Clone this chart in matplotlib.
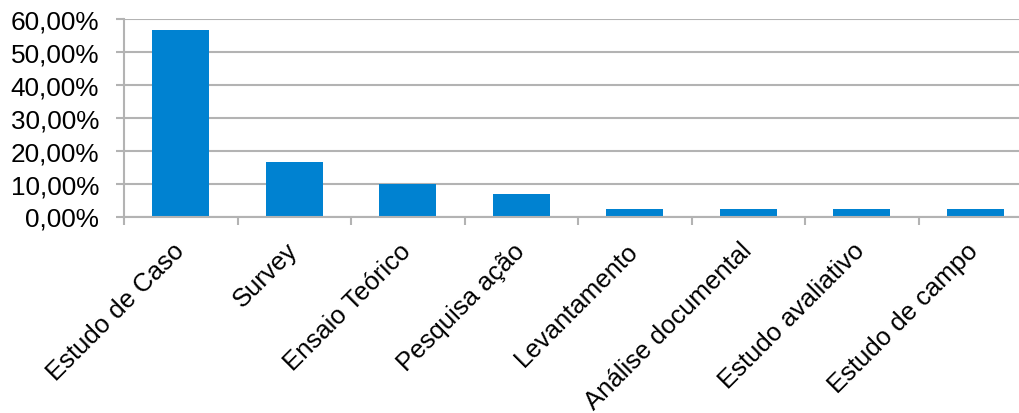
import matplotlib
matplotlib.use("Agg")
import matplotlib.pyplot as plt
from matplotlib.ticker import FuncFormatter, FixedLocator
from matplotlib.transforms import ScaledTranslation
import numpy as np

categories = ["Estudo de Caso", "Survey", "Ensaio Teórico", "Pesquisa ação",
              "Levantamento", "Análise documental", "Estudo avaliativo", "Estudo de campo"]
values = [0.567, 0.167, 0.100, 0.067, 0.022, 0.022, 0.022, 0.022]
y_ticks = [0.0, 0.1, 0.2, 0.3, 0.4, 0.5, 0.6]

plt.rcParams['font.family'] = ['Liberation Sans', 'DejaVu Sans']

W, H = 1019, 414
fig = plt.figure(figsize=(W / 100, H / 100), dpi=100)
ax = fig.add_axes([124 / W, (H - 217.5) / H, (1032 - 124) / W, (217.5 - 20) / H])

x = np.arange(len(categories))
ax.bar(x, values, width=0.5, color="#0082D1", zorder=3)

gray = "#B3B3B3"
ax.set_xlim(-0.5, len(categories) - 0.5)
ax.set_ylim(0, 0.6)
ax.set_yticks(y_ticks)
ax.yaxis.set_major_formatter(FuncFormatter(lambda v, p: f"{v*100:.2f}".replace(".", ",") + "%"))
ax.grid(axis="y", color=gray, linewidth=1.5, zorder=0)
ax.set_axisbelow(True)

ax.set_xticks(x)
ax.set_xticklabels(categories, rotation=45, ha="right", va="top", rotation_mode="anchor")
ax.xaxis.set_minor_locator(FixedLocator(np.arange(-0.5, len(categories) + 0.5, 1)))
ax.tick_params(axis="x", which="major", length=0, pad=14, labelsize=18.5, colors="black")
ax.tick_params(axis="x", which="minor", length=6, width=1.5, color=gray, direction="out")
ax.tick_params(axis="y", length=6, width=1.5, color=gray, direction="out", pad=12, labelsize=18.8)

offset = ScaledTranslation(-9 / 100, -2 / 100, fig.dpi_scale_trans)
for lab in ax.get_xticklabels():
    lab.set_transform(lab.get_transform() + offset)

for s in ["top", "right"]:
    ax.spines[s].set_visible(False)
for s in ["left", "bottom"]:
    ax.spines[s].set_color(gray)
    ax.spines[s].set_linewidth(1.5)
    ax.spines[s].set_zorder(4)

fig.savefig("out.png", dpi=100)
